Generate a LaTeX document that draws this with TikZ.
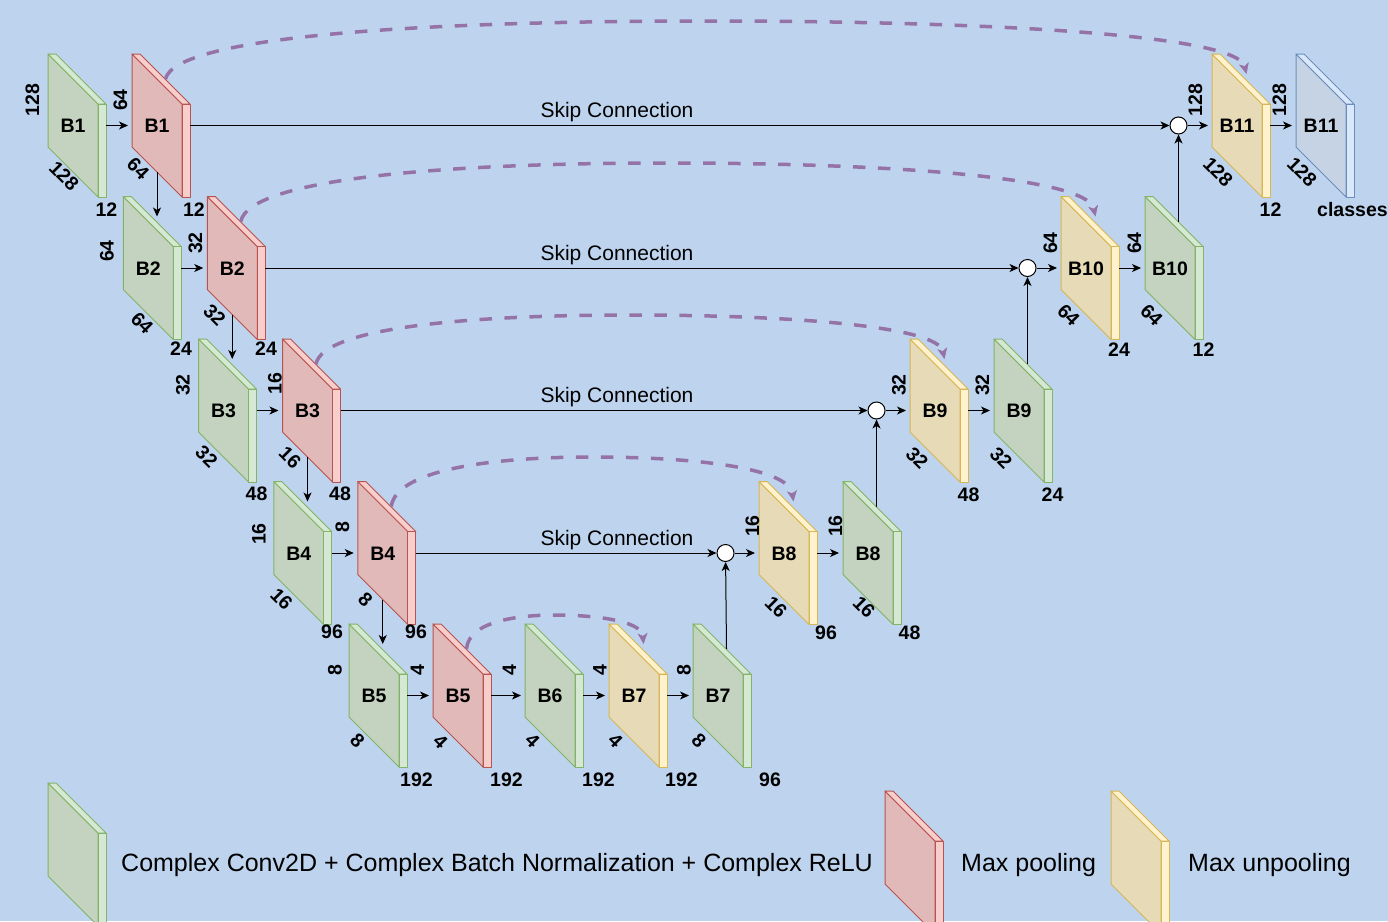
\documentclass[tikz,border=0pt]{standalone}
\usepackage{fontspec}
\setmainfont{Liberation Sans}
\usetikzlibrary{arrows.meta,calc}

\definecolor{bgblue}{RGB}{190,212,238}
\definecolor{greenfill}{HTML}{D5E8D4}
\definecolor{greenface}{RGB}{196,211,191}
\definecolor{greenline}{HTML}{82B366}
\definecolor{redfill}{HTML}{F8CECC}
\definecolor{redface}{RGB}{224,185,184}
\definecolor{redline}{HTML}{B85450}
\definecolor{yellowfill}{HTML}{FFF2CC}
\definecolor{yellowface}{RGB}{230,218,183}
\definecolor{yellowline}{HTML}{D6B656}
\definecolor{bluefill}{HTML}{DAE8FC}
\definecolor{blueface}{RGB}{198,211,228}
\definecolor{blueline}{HTML}{6C8EBF}
\definecolor{skippurple}{HTML}{9673A6}

% A slanted feature-map slab: name, left x, top y, colour family, title
\newcommand\slab[5]{%
  \begin{scope}[shift={(#2,#3)}]
    \filldraw[draw=#4line, fill=#4face, line width=1pt, line join=round]
      (0,0) -- (50,50) -- (50,143) -- (0,93) -- cycle;
    \filldraw[draw=#4line, fill=#4fill, line width=1pt, line join=round]
      (0,0) -- (8,0) -- (58,50) -- (50,50) -- cycle;
    \filldraw[draw=#4line, fill=#4fill, line width=1pt, line join=round]
      (50,50) -- (58,50) -- (58,143) -- (50,143) -- cycle;
    \node[blocktitle] (#1) at (25,72) {#5};
    \coordinate (#1-in)  at (0,71.5);
    \coordinate (#1-out) at (58,71.5);
    \coordinate (#1-top) at (33.5,25);
    \coordinate (#1-tip) at (34.5,20);
    \coordinate (#1-bot) at (25,118);
  \end{scope}}

\begin{document}
\begin{tikzpicture}[x=1pt,y=-1pt,
  blocktitle/.style={font=\fontsize{19.5}{20}\selectfont\bfseries, inner sep=0pt},
  dimv/.style={font=\fontsize{19.5}{20}\selectfont\bfseries, inner sep=0pt, rotate=90},
  dimd/.style={font=\fontsize{19.5}{20}\selectfont\bfseries, inner sep=0pt, rotate=-45},
  dimb/.style={font=\fontsize{19.5}{20}\selectfont\bfseries, inner sep=0pt},
  flow/.style={line width=1pt, -{Stealth[length=9pt,width=8pt,inset=2.5pt]}, shorten >=4pt},
  downflow/.style={flow, shorten >=5pt},
  joinflow/.style={flow, shorten >=0pt},
  skiplabel/.style={font=\fontsize{21}{21}\selectfont, inner sep=0pt, anchor=base},
  merge/.style={circle, draw, fill=white, line width=1pt, minimum size=17pt, inner sep=0pt},
  skipcurve/.style={skippurple, line width=3.5pt, dash pattern=on 12.5pt off 12.5pt,
    -{Stealth[length=11pt,width=10pt,inset=3pt,line width=0.5pt]}},
  legendtext/.style={font=\fontsize{25}{25}\selectfont, anchor=base west, inner sep=0pt}]

\fill[bgblue] (0,0) rectangle (1388,921);
\useasboundingbox (0,0) rectangle (1388,921);
\clip (0,0) rectangle (1388,921);

% ---- encoder / decoder slabs ----
\slab{gB1}{48}{54}{green}{B1}
\slab{rB1}{132}{54}{red}{B1}
\slab{yB11}{1212}{54}{yellow}{B11}
\slab{bB11}{1296}{54}{blue}{B11}

\slab{gB2}{123.25}{196.5}{green}{B2}
\slab{rB2}{207.25}{196.5}{red}{B2}
\slab{yB10}{1061}{196.5}{yellow}{B10}
\slab{gB10}{1145}{196.5}{green}{B10}

\slab{gB3}{198.5}{339}{green}{B3}
\slab{rB3}{282.5}{339}{red}{B3}
\slab{yB9}{910}{339}{yellow}{B9}
\slab{gB9}{994}{339}{green}{B9}

\slab{gB4}{273.75}{481.5}{green}{B4}
\slab{rB4}{357.75}{481.5}{red}{B4}
\slab{yB8}{759}{481.5}{yellow}{B8}
\slab{gB8}{843}{481.5}{green}{B8}

\slab{gB5}{349}{624}{green}{B5}
\slab{rB5}{433}{624}{red}{B5}
\slab{gB6}{525}{624}{green}{B6}
\slab{yB7}{609}{624}{yellow}{B7}
\slab{gB7}{693}{624}{green}{B7}

% ---- legend ----
\slab{lgG}{48}{783}{green}{}
\slab{lgR}{885}{791}{red}{}
\slab{lgY}{1111}{791}{yellow}{}
\node[legendtext] (lgGt) at (121,871.5) {Complex Conv2D + Complex Batch Normalization + Complex ReLU};
\node[legendtext] (lgRt) at (961,871.5) {Max pooling};
\node[legendtext] (lgYt) at (1188,871.5) {Max unpooling};

% ---- merge points ----
\node[merge] (m1) at (1178.5,125.5) {};
\node[merge] (m2) at (1027.5,268) {};
\node[merge] (m3) at (876.5,410.5) {};
\node[merge] (m4) at (725.5,553) {};

% ---- flow arrows ----
\draw[flow] (gB1-out) -- (rB1-in);
\draw[flow] (gB2-out) -- (rB2-in);
\draw[flow] (gB3-out) -- (rB3-in);
\draw[flow] (gB4-out) -- (rB4-in);
\draw[flow] (gB5-out) -- (rB5-in);
\draw[flow] (rB5-out) -- (gB6-in);
\draw[flow] (gB6-out) -- (yB7-in);
\draw[flow] (yB7-out) -- (gB7-in);

\draw[downflow] (rB1-bot) -- (rB1-bot |- gB2-top);
\draw[downflow] (rB2-bot) -- (rB2-bot |- gB3-top);
\draw[downflow] (rB3-bot) -- (rB3-bot |- gB4-top);
\draw[downflow] (rB4-bot) -- (rB4-bot |- gB5-top);

\draw[joinflow] (gB7-top) -- (m4);
\draw[joinflow] (gB8-top) -- (m3);
\draw[joinflow] (gB9-top) -- (m2);
\draw[joinflow] (gB10-top) -- (m1);

\draw[flow] (m4) -- (yB8-in);
\draw[flow] (m3) -- (yB9-in);
\draw[flow] (m2) -- (yB10-in);
\draw[flow] (m1) -- (yB11-in);

\draw[flow] (yB8-out) -- (gB8-in);
\draw[flow] (yB9-out) -- (gB9-in);
\draw[flow] (yB10-out) -- (gB10-in);
\draw[flow] (yB11-out) -- (bB11-in);

% ---- skip connections ----
\draw[joinflow] (rB1-out) -- (m1);
\draw[joinflow] (rB2-out) -- (m2);
\draw[joinflow] (rB3-out) -- (m3);
\draw[joinflow] (rB4-out) -- (m4);
\node[skiplabel] (sk1) at (617,117.5) {Skip Connection};
\node[skiplabel] (sk2) at (617,260) {Skip Connection};
\node[skiplabel] (sk3) at (617,402.5) {Skip Connection};
\node[skiplabel] (sk4) at (617,545) {Skip Connection};

% ---- pooling-index curves ----
\coordinate (pk1) at (706,21);
\coordinate (pk2) at (668,163);
\coordinate (pk3) at (630.5,315);
\coordinate (pk4) at (592.5,457);
\coordinate (pk5) at (555,615);
\draw[skipcurve] (rB1-top) .. controls +(10,-44) and +(-270,0) .. (pk1)
  .. controls +(270,0) and +(-10,-40) .. (yB11-tip);
\draw[skipcurve] (rB2-top) .. controls +(9,-44) and +(-214,0) .. (pk2)
  .. controls +(214,0) and +(-9,-40) .. (yB10-tip);
\draw[skipcurve] (rB3-top) .. controls +(7,-37) and +(-157,0) .. (pk3)
  .. controls +(157,0) and +(-7,-33) .. (yB9-tip);
\draw[skipcurve] (rB4-top) .. controls +(5,-37) and +(-100,0) .. (pk4)
  .. controls +(100,0) and +(-5,-34) .. (yB8-tip);
\draw[skipcurve] (rB5-top) .. controls +(2,-28) and +(-36,0) .. (pk5)
  .. controls +(36,0) and +(-2,-24) .. (yB7-tip);

% ---- size labels ----
\node[dimv] (gB1v) at (32.5,100) {128};
\node[dimd] (gB1d) at (64,176) {128};
\node[dimb] (gB1b) at (106.5,210) {12};
\node[dimv] (rB1v) at (120.5,100) {64};
\node[dimd] (rB1d) at (138,168.5) {64};
\node[dimb] (rB1b) at (194,210) {12};
\node[dimv] (yB11v) at (1195.5,100) {128};
\node[dimd] (yB11d) at (1218,172) {128};
\node[dimb] (yB11b) at (1270.5,210) {12};
\node[dimv] (bB11v) at (1279.5,100) {128};
\node[dimd] (bB11d) at (1302,172) {128};
\node[dimb, anchor=west] (bB11b) at (1317,210) {classes};

\node[dimv] (gB2v) at (107,251) {64};
\node[dimd] (gB2d) at (142,323) {64};
\node[dimb] (gB2b) at (181,349) {24};
\node[dimv] (rB2v) at (195.5,243) {32};
\node[dimd] (rB2d) at (214.5,315) {32};
\node[dimb] (rB2b) at (266,349) {24};
\node[dimv] (yB10v) at (1050.5,243) {64};
\node[dimd] (yB10d) at (1068.5,315) {64};
\node[dimb] (yB10b) at (1119,350) {24};
\node[dimv] (gB10v) at (1134.5,243) {64};
\node[dimd] (gB10d) at (1151.5,315) {64};
\node[dimb] (gB10b) at (1203.5,350) {12};

\node[dimv] (gB3v) at (183,385) {32};
\node[dimd] (gB3d) at (206.5,456.5) {32};
\node[dimb] (gB3b) at (256.5,494) {48};
\node[dimv] (rB3v) at (275,383.5) {16};
\node[dimd] (rB3d) at (290,457.5) {16};
\node[dimb] (rB3b) at (340,494) {48};
\node[dimv] (yB9v) at (899,385) {32};
\node[dimd] (yB9d) at (917,458) {32};
\node[dimb] (yB9b) at (968.5,495) {48};
\node[dimv] (gB9v) at (982.5,385) {32};
\node[dimd] (gB9d) at (1001,458) {32};
\node[dimb] (gB9b) at (1052.5,495) {24};

\node[dimv] (gB4v) at (259,534) {16};
\node[dimd] (gB4d) at (281.5,599) {16};
\node[dimb] (gB4b) at (332,632) {96};
\node[dimv] (rB4v) at (342.5,527) {8};
\node[dimd] (rB4d) at (365.5,599.5) {8};
\node[dimb] (rB4b) at (416,632) {96};
\node[dimv] (yB8v) at (752.5,526) {16};
\node[dimd] (yB8d) at (776,607) {16};
\node[dimb] (yB8b) at (826,633) {96};
\node[dimv] (gB8v) at (835.5,526) {16};
\node[dimd] (gB8d) at (864,607) {16};
\node[dimb] (gB8b) at (909.5,633) {48};

\node[dimv] (gB5v) at (335,670) {8};
\node[dimd] (gB5d) at (357.5,741) {8};
\node[dimb] (gB5b) at (416.5,780) {192};
\node[dimv] (rB5v) at (417.5,670) {4};
\node[dimd] (rB5d) at (440.5,741.5) {4};
\node[dimb] (rB5b) at (506.5,780) {192};
\node[dimv] (gB6v) at (509.5,670) {4};
\node[dimd] (gB6d) at (532.5,741) {4};
\node[dimb] (gB6b) at (598.5,780) {192};
\node[dimv] (yB7v) at (600,670) {4};
\node[dimd] (yB7d) at (615.5,741) {4};
\node[dimb] (yB7b) at (681.5,780) {192};
\node[dimv] (gB7v) at (684,670) {8};
\node[dimd] (gB7d) at (699,741) {8};
\node[dimb] (gB7b) at (770,780) {96};
\end{tikzpicture}
\end{document}
